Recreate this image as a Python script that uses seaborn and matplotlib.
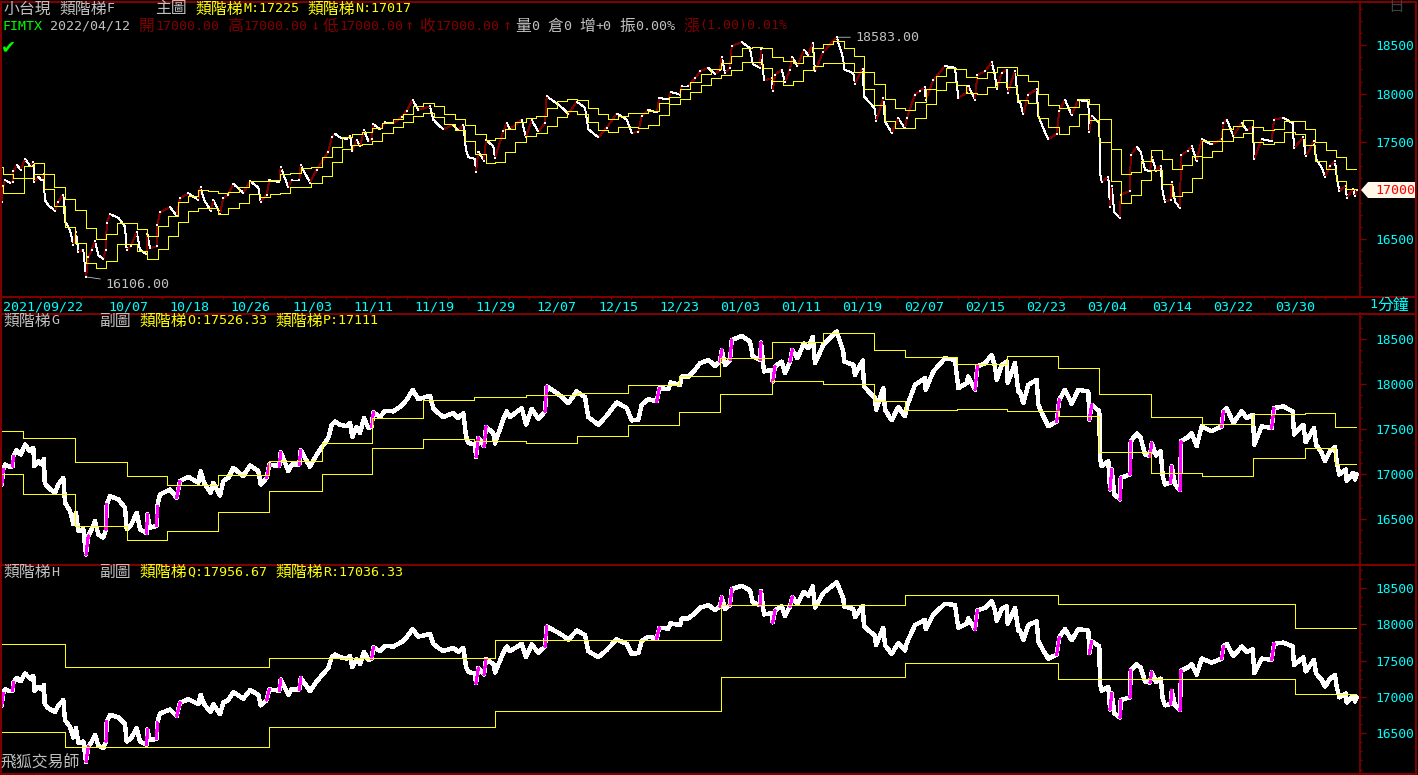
import numpy as np
import pandas as pd
import matplotlib
matplotlib.use("Agg")
import matplotlib.pyplot as plt
from matplotlib.lines import Line2D
from matplotlib.patches import Polygon, Rectangle
from matplotlib.ticker import FixedLocator, FixedFormatter
import seaborn as sns

# ---------- data (x = bar position on the shared time axis) ----------
BAR_A = [1.7,3.3,5,10,12.7,13.3,16.7,20.7,25,30,33.3,34.3,38.3,41.7,44,44.7,48.3,55,58.3,63.3,65,70,73.3,76,78.3,83.3,86,88.3,91.7,95,98.3,103.3,106,106.7,110,118.3,125,126.7,130.7,136.7,140,146.7,147.3,150,156.7,157.3,160,170,176.7,180,188.3,198.3,200.7,204,210.7,213.3,220,223.3,228.3,233.3,243.3,250,258.3,260.7,266.7,269.3,279.3,280.7,288.3,291.7,299.3,300.7,310,316.7,328.3,331.7,335]
CLOSE_A = [16884,17050,17105,17080,17087,17198,17264,17216,17327,17253,17290,17087,17142,17105,17168,16903,16847,16792,16884,16958,16681,16589,16441,16570,16368,16386,16106,16312,16386,16478,16331,16294,16386,16663,16755,16718,16626,16386,16423,16570,16386,16342,16552,16405,16423,16644,16773,16829,16736,16921,16969,16903,17032,16903,16792,16903,16762,16921,16958,17068,16976,17094,17032,16884,16958,17105,17087,17242,17032,17105,17105,17264,17080,17216,17401,17548,17585]
BAR_B = [340,346.7,350,352.3,356.7,360,364,368.3,371.7,373.3,380,385,393.3,401.7,406.7,412.7,418.3,430,433.3,438.3,443.3,453.3,458.3,463.3,466,468.3,475,476,478.3,484,486,493.3,495,503.3,506.7,510,521.7,526,531.7,538.3,545,546.7,556.7,563.3,568.3,576.7,585,588.3,598.3,606.7,616.7,626.7,631.7,638.3,641.7,648.3,656.7,659.3,668.3,670.7]
CLOSE_B = [17548,17530,17567,17412,17523,17456,17622,17511,17530,17685,17633,17703,17696,17759,17825,17936,17832,17869,17733,17677,17633,17677,17622,17677,17419,17345,17327,17190,17401,17308,17523,17456,17338,17611,17696,17633,17733,17548,17725,17611,17696,17973,17899,17844,17788,17917,17855,17633,17548,17648,17795,17733,17596,17604,17770,17832,17807,17954,17943,18017]
BAR_C = [680,681.7,688.3,695,700,708.3,715,720,721.7,725,730,731.7,741.7,750,752.7,760,761,764,771.7,772.7,775,781.7,785,790,792.3,797.3,804,808.3,812.7,815,823.3,836.7,843.3,844,853.3,855,862.7,864,875,876,883.3,885,891.7,898.3,905,906.7,915,920,925,925.7,933.3,945,955,958.3,966.7,968.3,975,977.3,985,991.7,995,996.7,1001.7,1006.7,1007.7,1015,1018.3]
CLOSE_C = [17991,18083,18083,18157,18231,18268,18201,18249,18379,18213,18268,18489,18534,18471,18305,18268,18460,18139,18157,18028,18194,18249,18120,18249,18379,18286,18452,18397,18526,18231,18434,18583,18360,18250,18213,18102,18260,17973,17844,17714,17954,17714,17596,17744,17641,17744,17991,18028,18065,17936,18139,18286,18268,17954,18010,18083,17936,18194,18231,18323,18194,18047,18213,18249,18010,18231,17917]
BAR_D = [1020,1023.3,1028.3,1036.7,1038.3,1043.3,1048.3,1056.7,1059.3,1065,1071.7,1078.3,1088.3,1089.3,1091.7,1099.3,1100,1101.7,1108.3,1110,1111.7,1114.3,1120,1120.7,1130,1130.7,1136.7,1140.7,1145,1150,1151.7,1156,1160.7,1162.7,1165,1170.7,1171.7,1175,1180,1181,1188.3,1191.7,1196.7,1201.7,1211.7,1221.7,1223.3,1226.7,1233.3,1241.7,1246.7,1252.7,1254.3,1261.7,1271.7,1274,1283.3,1292.7,1294,1303.3,1305.7,1314,1316,1321.7,1325,1330,1335,1336.7,1339.3,1346,1346.7,1353.3,1355,1356.7]
CLOSE_D = [17917,17788,17991,18047,17770,17641,17530,17585,17825,17936,17781,17936,17917,17604,17770,17696,17179,17087,17142,16829,17050,16773,16718,16958,16995,17364,17449,17401,17216,17198,17345,17205,17253,16976,16884,16903,17087,16884,16821,17364,17412,17456,17308,17530,17475,17530,17696,17733,17567,17696,17622,17659,17327,17530,17511,17733,17751,17696,17438,17548,17353,17511,17327,17235,17142,17253,17301,17142,16995,17050,16925,17013,16939,17000]

STEP_X = [1,3,13,24,34,44,54,65,75,86,96,106,117,127,137,147,158,168,178,188,198,208,218,228,239,249,260,270,280,290,301,311,322,332,342,352,362,372,382,393,403,413,423,434,444,455,465,475,486,495,505,515,526,536,547,557,567,577,588,598,608,618,628,638,648,659,669,680,690,701,711,721,731,742,752,762,772,783,793,803,813,823,833,844,854,864,874,885,895,905,915,926,936,946,956,966,977,987,997,1007,1017,1028,1038,1048,1059,1069,1079,1089,1099,1111,1121,1131,1141,1151,1162,1172,1182,1192,1202,1212,1222,1233,1243,1253,1263,1274,1284,1295,1305,1315,1326,1336,1346]
LINE_M = [17239,17167,17125,17256,17280,17167,17032,16908,16795,16609,16495,16547,16660,16660,16598,16526,16630,16733,16881,16939,17001,16991,16970,16981,17032,17094,17094,17105,17167,17177,17229,17239,17342,17446,17549,17580,17601,17642,17694,17735,17787,17869,17900,17869,17787,17735,17673,17580,17518,17539,17632,17704,17745,17766,17849,17921,17942,17931,17849,17787,17735,17766,17797,17797,17818,17900,17962,18045,18117,18200,18252,18314,18386,18472,18482,18469,18376,18334,18314,18386,18469,18510,18541,18469,18386,18221,18097,17942,17849,17828,17910,18045,18179,18262,18251,18169,18158,18220,18272,18272,18189,18127,17993,17879,17848,17859,17941,17890,17735,17425,17166,17187,17301,17414,17321,17218,17259,17352,17514,17514,17631,17662,17724,17652,17621,17631,17714,17714,17631,17497,17414,17342,17225]
LINE_N = [17046,16970,16970,17132,17167,17012,16836,16619,16454,16247,16196,16268,16443,16443,16371,16289,16392,16526,16671,16784,16815,16815,16757,16815,16867,16960,16929,16960,16970,17032,17032,17074,17146,17291,17425,17466,17477,17508,17590,17652,17704,17766,17797,17756,17683,17621,17508,17373,17280,17291,17394,17497,17559,17590,17663,17756,17818,17787,17704,17621,17601,17652,17652,17642,17673,17776,17890,17942,18014,18086,18159,18190,18241,18324,18324,18262,18128,18086,18128,18241,18283,18314,18314,18314,18221,18045,17880,17714,17642,17642,17745,17890,18034,18117,18086,18003,17993,18065,18117,18065,17931,17900,17745,17652,17580,17662,17786,17724,17497,17094,16867,16949,17104,17208,17063,16939,16980,17125,17342,17404,17507,17549,17590,17497,17476,17497,17600,17580,17466,17301,17218,17094,17017]

STEP_XO = [1,23,75,127,167,218,269,322,372,423,474,526,577,628,679,720,772,823,874,905,957,1007,1058,1099,1151,1202,1253,1305,1335]
LINE_O = [17478,17401,17135,16973,16873,16991,17146,17345,17622,17821,17855,17877,17899,17987,18087,18286,18463,18563,18375,18297,18220,18308,18176,17888,17633,17556,17666,17677,17526]
LINE_P = [17002,16781,16427,16272,16371,16582,16814,17002,17290,17390,17368,17345,17423,17545,17689,17888,18032,17999,17810,17711,17722,17700,17644,17246,17013,16980,17179,17290,17111]

STEP_XQ = [1,65,269,495,721,905,1058,1295]
LINE_Q = [17731,17414,17538,17786,18269,18407,18283,17956.67]
LINE_R = [16517,16306,16582,16807,17276,17469,17248,17036.33]
END_X = 1356

X_DATES = ["2021/09/22","10/07","10/18","10/26","11/03","11/11","11/19","11/29","12/07","12/15","12/23","01/03","01/11","01/19","02/07","02/15","02/23","03/04","03/14","03/22","03/30"]
X_DATE_POS = [43,128,189,250,312,373,434,495,556,618,679,740,801,862,924,985,1046,1107,1172,1233,1295]
Y_TICKS = [16500,17000,17500,18000,18500]

RED = "#800000"; GREY = "#C0C0C0"; YEL = "#FFFF00"; CYAN = "#00FFFF"; GREEN = "#00FF00"; MAG = "#FF00FF"
CJK = "Noto Sans CJK TC"; MONO = "DejaVu Sans Mono"

sns.set_theme(style="dark", rc={"axes.facecolor": "black", "figure.facecolor": "black",
                                "lines.antialiased": False, "axes.grid": False})
plt.rcParams["font.family"] = [MONO, CJK]

W, H = 1418, 775
fig = plt.figure(figsize=(W/100, H/100), dpi=100, facecolor="black")

def make_axes(top, bottom):
    return fig.add_axes([0, 1-bottom/H, 1360/W, (bottom-top)/H])

ax1 = make_axes(2, 296)
ax2 = make_axes(313, 564)
ax3 = make_axes(564, 773)
axes = [ax1, ax2, ax3]
YLIMS = [(15910, 18947), (16000, 18789), (15952, 18834)]

x = np.array(BAR_A + BAR_B + BAR_C + BAR_D, dtype=float)
y = np.array(CLOSE_A + CLOSE_B + CLOSE_C + CLOSE_D, dtype=float)

def segments(mask):
    rows = []
    for i in np.flatnonzero(mask):
        rows.append((i, x[i], y[i]))
        rows.append((i, x[i+1], y[i+1]))
    return pd.DataFrame(rows, columns=["seg", "x", "y"])

dx = np.maximum(np.diff(x), 0.3)
dy = np.diff(y)
steep_up = (dy > 110) & (dy/dx > 55)
rising = dy > 0

def steps(ax, xs, ys, end=END_X):
    df = pd.DataFrame({"x": list(xs) + [end], "y": list(ys) + [ys[-1]]})
    sns.lineplot(data=df, x="x", y="y", ax=ax, color=YEL, lw=0.55, estimator=None, sort=False,
                 drawstyle="steps-post", zorder=4)

# main panel: thin candles
sns.lineplot(data=segments(~rising), x="x", y="y", units="seg", estimator=None, sort=False,
             color="white", lw=0.7, ax=ax1, zorder=2)
sns.lineplot(data=segments(rising), x="x", y="y", units="seg", estimator=None, sort=False,
             color=RED, lw=0.7, ax=ax1, zorder=3)
sns.scatterplot(x=x, y=y, color="white", marker="s", s=4, linewidth=0, ax=ax1, zorder=3.5)
steps(ax1, STEP_X, LINE_M)
steps(ax1, STEP_X, LINE_N)

# sub panels: heavy close line with magenta jumps
for ax in (ax2, ax3):
    sns.lineplot(x=x, y=y, color="white", lw=2.4, estimator=None, sort=False, ax=ax, zorder=2)
    sns.lineplot(data=segments(steep_up), x="x", y="y", units="seg", estimator=None, sort=False,
                 color=MAG, lw=1.5, ax=ax, zorder=3)
steps(ax2, STEP_XO, LINE_O)
steps(ax2, STEP_XO, LINE_P)
steps(ax3, STEP_XQ, LINE_Q)
steps(ax3, STEP_XQ, LINE_R)

minor_y = [v for v in np.arange(16000, 18876, 125)]
for ax, lim in zip(axes, YLIMS):
    ax.set_xlim(0, 1360)
    ax.set_ylim(*lim)
    ax.set_facecolor("black")
    ax.set_xlabel(""); ax.set_ylabel("")
    for s in ("top", "left", "bottom"):
        ax.spines[s].set_visible(False)
    ax.spines["right"].set_color(RED)
    ax.spines["right"].set_linewidth(1.2)
    ax.yaxis.tick_right()
    ax.yaxis.set_major_locator(FixedLocator(Y_TICKS))
    labels = [str(v) for v in Y_TICKS]
    if ax is ax1:
        labels[1] = ""
    ax.yaxis.set_major_formatter(FixedFormatter(labels))
    ax.yaxis.set_minor_locator(FixedLocator([v for v in minor_y if v not in Y_TICKS and lim[0] < v < lim[1]]))
    ax.tick_params(axis="y", which="major", direction="out", length=4, width=1, color=RED,
                   labelcolor=CYAN, labelsize=9.3, pad=7, right=True)
    ax.tick_params(axis="y", which="minor", direction="out", length=1.6, width=1, color=RED, right=True)
    ax.set_xticks([])

# date axis on the main panel
ax1.set_xticks(X_DATE_POS)
ax1.set_xticklabels(X_DATES)
ax1.set_xticks(np.arange(19.3, 1360, 20.4), minor=True)
ax1.tick_params(axis="x", which="major", length=0, labelcolor=CYAN, labelsize=9.6, pad=3, bottom=True)
ax1.tick_params(axis="x", which="minor", length=2.4, width=1, color=RED, direction="out", bottom=True)

# rules and frame
def hline(yp, x0=0, x1=1416):
    fig.add_artist(Line2D([x0/W, x1/W], [1-yp/H, 1-yp/H], color=RED, lw=1.2, antialiased=False, transform=fig.transFigure))
for yp in (296.5, 313.5, 564.5):
    hline(yp)
fig.add_artist(Rectangle((1/W, 1-773.5/H), 1415/W, 772/H, fill=False, edgecolor=RED, lw=1.4,
                         antialiased=False, transform=fig.transFigure))

# fixed-cell header text: half-width Latin 8 px, full-width CJK 16 px
def put(xp, yp, s, color, zorder=5):
    run, kind, cx = "", None, xp
    def flush(r, k, start):
        if not r:
            return
        fam = [CJK, MONO] if k == "c" else [MONO, CJK]
        size = 11.4 if k == "c" else 9.6
        fig.text(start/W, 1-yp/H, r, color=color, family=fam, fontsize=size, ha="left", va="center", zorder=zorder)
    start = cx
    for ch in s:
        k = "a" if ord(ch) < 128 else "c"
        if k != kind:
            flush(run, kind, start)
            run, kind, start = "", k, cx
        run += ch
        cx += 8 if k == "a" else 16
    flush(run, kind, start)

put(3, 9, "小台現 類階梯F", GREY)
put(155, 9, "主圖", GREY)
put(195, 9, "類階梯M:17225", YEL)
put(307, 9, "類階梯N:17017", YEL)
put(3, 26, "FIMTX", GREEN)
put(50, 26, "2022/04/12", GREY)
put(139, 26, "開17000.00", RED)
put(227, 26, "高17000.00", RED)
fig.text(311/W, 1-26/H, "↓", color=RED, family=MONO, fontsize=11, ha="left", va="center")
put(323, 26, "低17000.00", RED)
fig.text(405/W, 1-26/H, "↑", color=RED, family=MONO, fontsize=11, ha="left", va="center")
put(419, 26, "收17000.00", RED)
fig.text(503/W, 1-26/H, "↑", color=RED, family=MONO, fontsize=11, ha="left", va="center")
put(515, 26, "量0", GREY)
put(547, 26, "倉0", GREY)
put(579, 26, "增+0", GREY)
put(619, 26, "振0.00%", GREY)
put(683, 26, "漲(1.00)0.01%", RED)
fig.text(8/W, 1-47/H, "✔", color=GREEN, family="DejaVu Sans", fontsize=13, ha="center", va="center")

put(3, 321, "類階梯G", GREY)
put(99, 321, "副圖", GREY)
put(139, 321, "類階梯O:17526.33", YEL)
put(275, 321, "類階梯P:17111", YEL)
put(3, 572, "類階梯H", GREY)
put(99, 572, "副圖", GREY)
put(139, 572, "類階梯Q:17956.67", YEL)
put(275, 572, "類階梯R:17036.33", YEL)
put(1, 763, "飛狐交易師", GREY)
put(1369, 305, "1分鐘", CYAN)
put(1388, 6, "日", "#404040")

# extreme labels
ax1.annotate("18583.00", xy=(837, 18583), xytext=(855, 18583), color=GREY, fontsize=9.6, va="center",
             arrowprops=dict(arrowstyle="-", color=GREY, lw=0.6, shrinkA=1, shrinkB=0), annotation_clip=False)
ax1.annotate("16106.00", xy=(87, 16106), xytext=(105, 16030), color=GREY, fontsize=9.6, va="center",
             arrowprops=dict(arrowstyle="-", color=GREY, lw=0.6, shrinkA=1, shrinkB=0), annotation_clip=False)

# last-price tag
tag = [(1361, 190), (1368, 182), (1415, 182), (1415, 198), (1368, 198)]
fig.add_artist(Polygon([(a/W, 1-b/H) for a, b in tag], closed=True, facecolor="#FFF8E8", edgecolor="none",
                       transform=fig.transFigure, zorder=4))
fig.text(1375/W, 1-190/H, "17000", color="#FF0000", family=MONO, fontsize=9.6, ha="left", va="center", zorder=6)

fig.savefig("out.png", dpi=100, facecolor="black")
